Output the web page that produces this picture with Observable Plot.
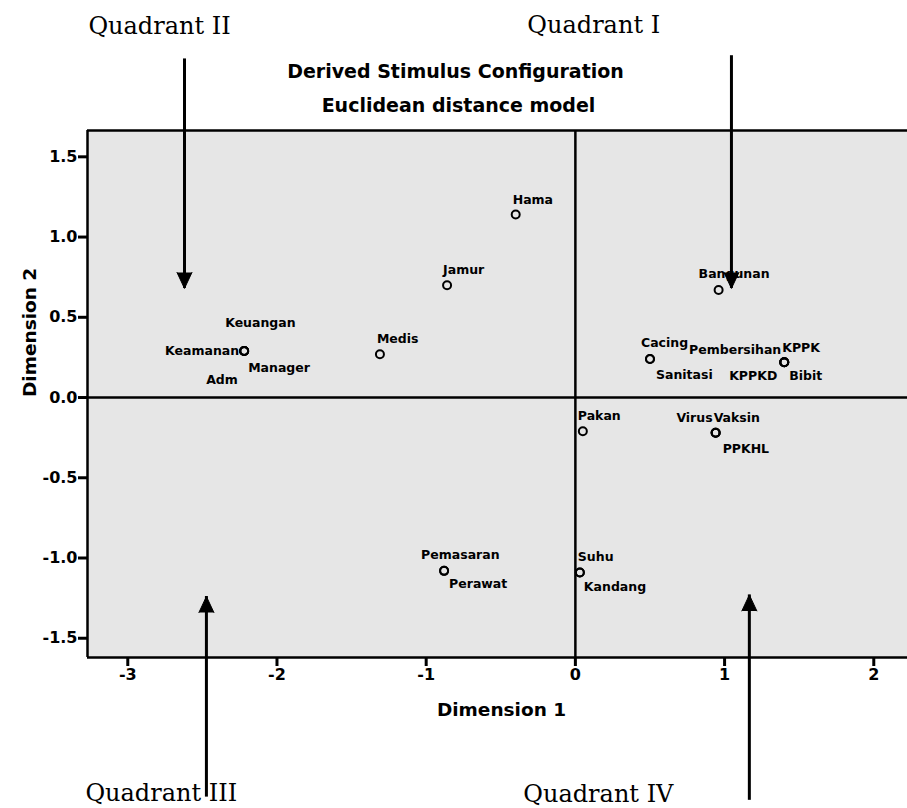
<!DOCTYPE html>
<html><head><meta charset="utf-8">
<script src="https://cdn.jsdelivr.net/npm/d3@7"></script>
<script src="https://cdn.jsdelivr.net/npm/@observablehq/plot@0.6"></script>
<style>
body{margin:0;background:#fff}
#chart svg{display:block}
</style>
</head><body><div id="chart"></div>
<script>
// ---- data ----
const stimuli = ["Hama","Jamur","Medis","Keamanan","Keuangan","Manager","Adm","Bangunan","Cacing","Sanitasi","Pembersihan","KPPK","KPPKD","Bibit","Pakan","Virus","Vaksin","PPKHL","Suhu","Kandang","Pemasaran","Perawat"];
const dimension1 = [-0.40,-0.86,-1.31,-2.22,-2.22,-2.22,-2.22,0.96,0.50,0.50,1.40,1.40,1.40,1.40,0.05,0.94,0.94,0.94,0.03,0.03,-0.88,-0.88];
const dimension2 = [1.14,0.70,0.27,0.29,0.29,0.29,0.29,0.67,0.24,0.24,0.22,0.22,0.22,0.22,-0.21,-0.22,-0.22,-0.22,-1.09,-1.09,-1.08,-1.08];
const xTicks = [-3,-2,-1,0,1,2];
const yTicks = [-1.5,-1.0,-0.5,0.0,0.5,1.0,1.5];
const titleLines = ["Derived Stimulus Configuration","Euclidean distance model"];
const xTitle = "Dimension 1";
const yTitle = "Dimension 2";
const quadrantNames = ["Quadrant II","Quadrant I","Quadrant III","Quadrant IV"];

// ---- annotation placement (data units) ----
const quadrantLabelX = [-3.264,-0.322,-3.284,-0.349];
const quadrantLabelY = [2.268,2.274,-2.517,-2.523];
const arrowX = [-2.62,1.046,-2.473,1.166];
const arrowFromY = [2.11,2.13,-2.49,-2.51];
const arrowToY = [0.68,0.68,-1.24,-1.23];
const xDomain = [-3.27, 2.226];
const yDomain = [-1.62, 1.664];

// ---- label placement (styling: pixel offsets, anchor) ----
const labelPlacement = {
  Hama:["start",-3,-15], Jamur:["start",-4,-15], Medis:["start",-3,-15],
  Keamanan:["end",-5,0], Keuangan:["start",-19,-28], Manager:["start",4,17], Adm:["start",-38,29],
  Bangunan:["start",-20,-16], Cacing:["start",-9,-16], Sanitasi:["start",6,16],
  Pembersihan:["end",-3,-12], KPPK:["start",-2,-14], KPPKD:["end",-7,14], Bibit:["start",5,14],
  Pakan:["start",-5,-15], Virus:["end",-3,-15], Vaksin:["start",-2,-15], PPKHL:["start",7,16],
  Suhu:["start",-2,-15], Kandang:["start",4,15], Pemasaran:["start",-23,-16], Perawat:["start",5,13]
};

const points = stimuli.map((name, i) => ({name, d1: dimension1[i], d2: dimension2[i]}));
const quadrants = quadrantNames.map((name, i) => ({name, lx: quadrantLabelX[i], ly: quadrantLabelY[i], ax: arrowX[i], from: arrowFromY[i], to: arrowToY[i]}));
const downArrows = quadrants.filter(q => q.to > q.from === false);
const upArrows = quadrants.filter(q => q.to > q.from);

const labelMarks = points.map(p => {
  const [anchor, dx, dy] = labelPlacement[p.name];
  return Plot.text([p], {x: "d1", y: "d2", text: "name", textAnchor: anchor, dx, dy,
    lineAnchor: "middle", fontSize: 12.5, fontWeight: "bold", fill: "black"});
});

const chart = Plot.plot({
  width: 907,
  height: 808,
  marginLeft: 87,
  marginRight: 0,
  marginTop: 130,
  marginBottom: 151,
  style: {fontFamily: "DejaVu Sans", background: "white", color: "black"},
  x: {domain: xDomain},
  y: {domain: yDomain},
  marks: [
    Plot.frame({fill: "#e6e6e6", stroke: "none"}),
    Plot.ruleX([xDomain[0]], {strokeWidth: 2.5}),
    Plot.ruleY([yDomain[0], yDomain[1]], {strokeWidth: 2.5}),
    Plot.ruleX([0], {strokeWidth: 2.5}),
    Plot.ruleY([0], {strokeWidth: 2.5}),
    Plot.axisX(xTicks, {tickSize: 9, tickPadding: 2, tickFormat: d => String(d), fontSize: 16, fontWeight: "bold", strokeWidth: 3, label: null}),
    Plot.axisY(yTicks, {tickSize: 9, tickPadding: 1, tickFormat: d => d.toFixed(1), fontSize: 16, fontWeight: "bold", strokeWidth: 3, label: null}),
    Plot.dot(points, {x: "d1", y: "d2", r: 4, stroke: "black", strokeWidth: 2, fill: "none"}),
    ...labelMarks,
    // titles
    Plot.text([titleLines[0]], {text: d => d, frameAnchor: "top", dx: -42, dy: -53, lineAnchor: "bottom", fontSize: 19, fontWeight: "bold"}),
    Plot.text([titleLines[1]], {text: d => d, frameAnchor: "top", dx: -39, dy: -19, lineAnchor: "bottom", fontSize: 19, fontWeight: "bold"}),
    Plot.text([xTitle], {text: d => d, frameAnchor: "bottom", dx: 4, dy: 58, lineAnchor: "bottom", fontSize: 18.5, fontWeight: "bold"}),
    Plot.text([yTitle], {text: d => d, frameAnchor: "left", dx: -57, dy: 3, rotate: -90, lineAnchor: "middle", fontSize: 18.5, fontWeight: "bold"}),
    // quadrant annotations
    Plot.text(quadrants, {x: "lx", y: "ly", text: "name", textAnchor: "start", lineAnchor: "bottom", fontFamily: "DejaVu Serif", fontSize: 24, fill: "black"}),
    Plot.ruleX(quadrants, {x: "ax", y1: "from", y2: "to", strokeWidth: 3}),
    Plot.vector(downArrows, {x: "ax", y: "to", shape: "spike", anchor: "end", rotate: 180, length: 16, r: 7.5, fill: "black", stroke: "black", strokeWidth: 1}),
    Plot.vector(upArrows, {x: "ax", y: "to", shape: "spike", anchor: "end", rotate: 0, length: 16, r: 7.5, fill: "black", stroke: "black", strokeWidth: 1})
  ]
});
document.getElementById("chart").appendChild(chart);
</script>
</body></html>
